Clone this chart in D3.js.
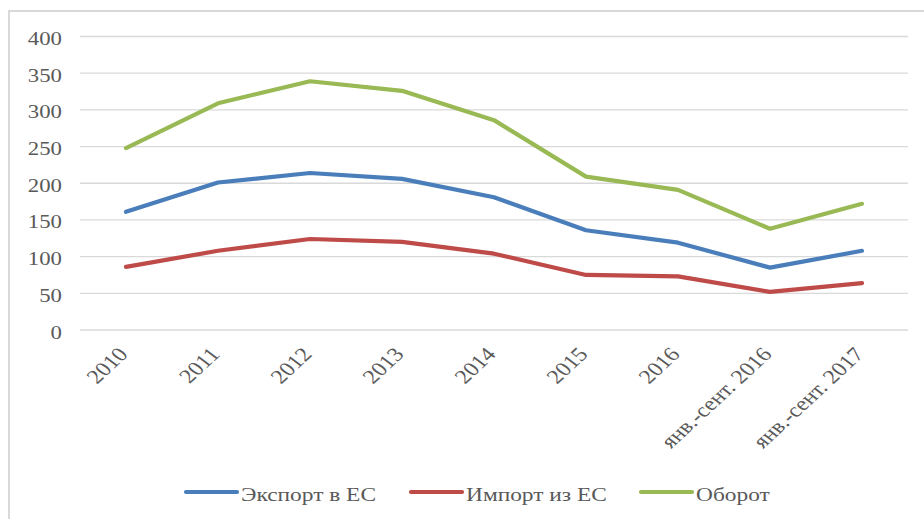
<!DOCTYPE html>
<html><head><meta charset="utf-8">
<script src="https://cdn.jsdelivr.net/npm/d3@7"></script>
<style>html,body{margin:0;padding:0;background:#fff;}svg{display:block;}
svg text{font-family:"Liberation Serif","Times New Roman",Tinos,"DejaVu Serif",serif;}</style>
</head><body>
<svg id="c" width="924" height="519"></svg>
<script>
const categories = ["2010","2011","2012","2013","2014","2015","2016","янв.-сент. 2016","янв.-сент. 2017"];
const exportEU = [161, 201, 214, 206, 181, 136, 119, 85, 108];
const importEU = [86, 108, 124, 120, 104, 75, 73, 52, 64];
const turnover = [248, 309, 339, 326, 286, 209, 191, 138, 172];
const yTicks = [0, 50, 100, 150, 200, 250, 300, 350, 400];
const seriesNames = ["Экспорт в ЕС", "Импорт из ЕС", "Оборот"];
const seriesColors = ["#4a7ebb", "#be4b48", "#98b954"];

(function () {
const svg = d3.select("#c");
const textColor = "#595959";
const sx = 1.2; // horizontal stretch of the original picture

svg.append("rect").attr("x", 9).attr("y", 11).attr("width", 930).attr("height", 520)
  .attr("fill", "none").attr("stroke", "#d9d9d9").attr("stroke-width", 2);

const pLeft = 80, pRight = 908, pTop = 36.5, pBottom = 330;
const x = d3.scaleBand().domain(categories).range([pLeft, pRight]);
const y = d3.scaleLinear().domain([0, 400]).range([pBottom, pTop]);

svg.append("g").selectAll("line").data(yTicks).join("line")
  .attr("x1", pLeft).attr("x2", pRight)
  .attr("y1", d => y(d)).attr("y2", d => y(d))
  .attr("stroke", "#d9d9d9").attr("stroke-width", 1.3);

const yAxis = d3.axisLeft(y).tickValues(yTicks).tickSize(0).tickPadding(0);
const gy = svg.append("g").attr("transform", `translate(62,0)`).call(yAxis);
gy.attr("font-family", null);
gy.select(".domain").remove();
gy.selectAll("text").attr("font-size", 19).attr("fill", textColor)
  .attr("x", 0).attr("dy", 0)
  .attr("transform", `translate(0,8) scale(${sx},1)`);

const xAxis = d3.axisBottom(x).tickSize(0).tickPadding(0);
const gx = svg.append("g").attr("transform", `translate(0,${pBottom})`).call(xAxis);
gx.attr("font-family", null);
gx.select(".domain").remove();
gx.selectAll("text")
  .attr("font-size", 20).attr("fill", textColor)
  .attr("text-anchor", "end").attr("dy", 0).attr("y", 0)
  .attr("transform", `translate(3,25) scale(${sx},1) rotate(-48)`);

const line = d3.line().x((d, i) => x(categories[i]) + x.bandwidth() / 2).y(d => y(d));
[exportEU, importEU, turnover].forEach((vals, k) => {
  svg.append("path").datum(vals).attr("d", line)
    .attr("fill", "none").attr("stroke", seriesColors[k]).attr("stroke-width", 4.2)
    .attr("stroke-linejoin", "round").attr("stroke-linecap", "round");
});

const legendX = [186, 411, 641];
const lg = svg.append("g");
seriesNames.forEach((n, k) => {
  lg.append("line").attr("x1", legendX[k]).attr("x2", legendX[k] + 51)
    .attr("y1", 492).attr("y2", 492)
    .attr("stroke", seriesColors[k]).attr("stroke-width", 4.2).attr("stroke-linecap", "round");
  lg.append("text").attr("transform", `translate(${legendX[k] + 55},501) scale(${sx},1)`)
    .attr("font-size", 19.5).attr("fill", textColor).text(n);
});
})();
</script>
</body></html>
